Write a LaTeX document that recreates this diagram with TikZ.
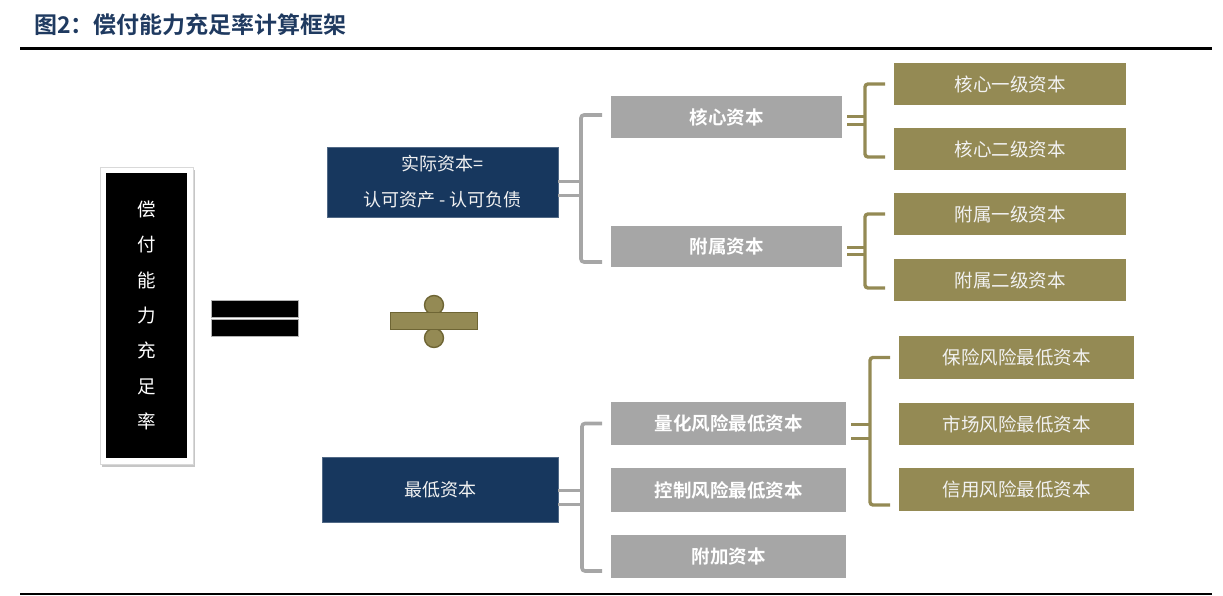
\documentclass[tikz,border=0pt]{standalone}
\usepackage{fontspec}
\newfontfamily\cjk{Noto Sans CJK SC}[BoldFont={Noto Sans CJK SC Bold}]
\usetikzlibrary{shadows,calc}
\definecolor{navyc}{HTML}{17375E}
\definecolor{grayc}{HTML}{A6A6A6}
\definecolor{olivec}{HTML}{948A54}
\definecolor{olived}{HTML}{6E6534}
\definecolor{titlec}{HTML}{1F3A60}
\tikzset{
  base/.style={rectangle, inner sep=0pt, outer sep=0pt, text=white, font=\cjk\fontsize{18.5}{22}\selectfont},
  navybox/.style={base, fill=navyc, draw=navyc!75!white, line width=0.6pt, text=white!95!black},
  graybox/.style={base, fill=grayc, font=\cjk\bfseries\fontsize{18.5}{22}\selectfont},
  olivebox/.style={base, fill=olivec, text=white!95!black},
  graybr/.style={draw=grayc, line width=3.6pt, rounded corners=3pt},
  grayst/.style={draw=grayc, line width=3pt},
  olivebr/.style={draw=olivec, line width=3.4pt, rounded corners=3pt},
  olivest/.style={draw=olivec, line width=3pt},
}
\begin{document}
\begin{tikzpicture}[x=1pt,y=-1pt]
\useasboundingbox (0,0) rectangle (1223,596);
% title and rules
\node[anchor=west, inner sep=0pt, text=titlec, font=\cjk\bfseries\fontsize{23}{26}\selectfont] (title) at (34,25) {图2：偿付能力充足率计算框架};
\draw[line width=3pt] (20,48.5) -- (1212,48.5);
\draw[line width=1.5pt] (20,594) -- (1212,594);

% left black box
\node[base, fill=white, draw=gray!30, line width=0.5pt, minimum width=93pt, minimum height=297pt,
      drop shadow={shadow xshift=1.5pt, shadow yshift=-3pt, opacity=0.45, fill=gray}] (frame) at (146.5,315.5) {};
\node[base, fill=black, minimum width=81pt, minimum height=285pt, align=center,
      font=\cjk\fontsize{18.5}{35.3}\selectfont] (lhs) at (146.5,315.5) {偿\\付\\能\\力\\充\\足\\率};

% equals sign
\node[base, fill=black, draw=gray!60, line width=0.4pt, minimum width=87pt, minimum height=17pt] (eqa) at (254.5,308.5) {};
\node[base, fill=black, draw=gray!60, line width=0.4pt, minimum width=87pt, minimum height=17pt] (eqb) at (254.5,327.5) {};

% division sign
\node[circle, fill=olivec, draw=olived, line width=1.4pt, minimum size=19pt, inner sep=0pt] (dvt) at (434,305) {};
\node[circle, fill=olivec, draw=olived, line width=1.4pt, minimum size=19pt, inner sep=0pt] (dvb) at (434,338) {};
\node[base, fill=olivec, draw=olived, line width=1.6pt, minimum width=87pt, minimum height=17pt] (dvbar) at (434,321) {};

% navy boxes
\node[navybox, minimum width=231pt, minimum height=70pt, align=center,
      font=\cjk\fontsize{18}{36}\selectfont] (n1) at (442.5,182) {实际资本=\\认可资产 - 认可负债};
\node[navybox, minimum width=236pt, minimum height=65pt, font=\cjk\fontsize{18}{22}\selectfont] (n2) at (440,489.5) {最低资本};

% gray boxes
\node[graybox, minimum width=231pt, minimum height=42pt] (hx) at (726.5,117) {核心资本};
\node[graybox, minimum width=231pt, minimum height=41pt] (fs) at (726.5,246.5) {附属资本};
\node[graybox, minimum width=235pt, minimum height=43pt] (lh) at (728.5,423.5) {量化风险最低资本};
\node[graybox, minimum width=235pt, minimum height=44pt] (kz) at (728.5,490) {控制风险最低资本};
\node[graybox, minimum width=235pt, minimum height=43pt] (fj) at (728.5,556.5) {附加资本};

% olive boxes
\node[olivebox, minimum width=232pt, minimum height=42pt] (o1) at (1010,84) {核心一级资本};
\node[olivebox, minimum width=232pt, minimum height=42pt] (o2) at (1010,149) {核心二级资本};
\node[olivebox, minimum width=232pt, minimum height=42pt] (o3) at (1010,214) {附属一级资本};
\node[olivebox, minimum width=232pt, minimum height=42pt] (o4) at (1010,280) {附属二级资本};
\node[olivebox, minimum width=235pt, minimum height=43pt] (r1) at (1016.5,357.5) {保险风险最低资本};
\node[olivebox, minimum width=235pt, minimum height=42pt] (r2) at (1016.5,424) {市场风险最低资本};
\node[olivebox, minimum width=235pt, minimum height=43pt] (r3) at (1016.5,489.5) {信用风险最低资本};

% gray bracket: n1 -> hx, fs
\coordinate (b1u) at (581,181.5);
\coordinate (b1d) at (581,195.5);
\draw[graybr] ([xshift=-9pt,yshift=2pt]hx.west) -| (b1u) |- ([xshift=-9pt,yshift=-15.5pt]fs.west);
\draw[grayst] (b1u -| n1.east) -- (b1u);
\draw[grayst] (b1d -| n1.east) -- (b1d);

% gray bracket: n2 -> lh, kz, fj
\coordinate (b2u) at (582,490);
\coordinate (b2d) at (582,504);
\draw[graybr] ([xshift=-9pt]lh.west) -| (b2u) |- ([xshift=-9pt,yshift=-14.5pt]fj.west);
\draw[grayst] (b2u -| n2.east) -- (b2u);
\draw[grayst] (b2d -| n2.east) -- (b2d);

% olive bracket: hx -> o1, o2
\coordinate (c1u) at (865,117);
\coordinate (c1d) at (865,125);
\draw[olivebr] ([xshift=-9pt]o1.west) -| (c1u) |- ([xshift=-9pt,yshift=-8pt]o2.west);
\draw[olivest] ([xshift=5pt]c1u -| hx.east) -- (c1u);
\draw[olivest] ([xshift=5pt]c1d -| hx.east) -- (c1d);

% olive bracket: fs -> o3, o4
\coordinate (c2u) at (865,247.5);
\coordinate (c2d) at (865,254.5);
\draw[olivebr] ([xshift=-9pt]o3.west) -| (c2u) |- ([xshift=-9pt,yshift=-8pt]o4.west);
\draw[olivest] ([xshift=5pt]c2u -| fs.east) -- (c2u);
\draw[olivest] ([xshift=5pt]c2d -| fs.east) -- (c2d);

% olive bracket: lh -> r1, r2, r3
\coordinate (c3u) at (870,424);
\coordinate (c3d) at (870,438);
\draw[olivebr] ([xshift=-9pt]r1.west) -| (c3u) |- ([xshift=-9pt,yshift=-15.5pt]r3.west);
\draw[olivest] ([xshift=5pt]c3u -| lh.east) -- (c3u);
\draw[olivest] ([xshift=5pt]c3d -| lh.east) -- (c3d);
\end{tikzpicture}
\end{document}
